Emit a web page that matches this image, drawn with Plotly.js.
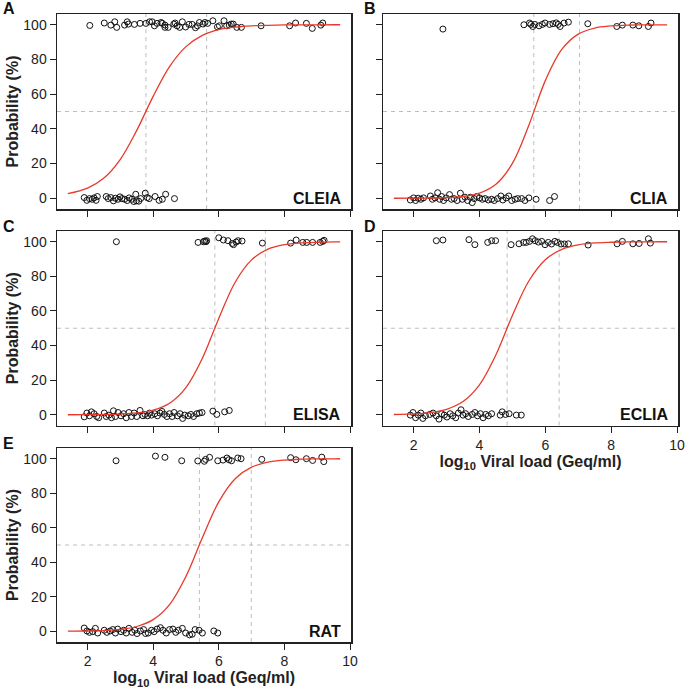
<!DOCTYPE html>
<html>
<head>
<meta charset="utf-8">
<script src="https://cdn.plot.ly/plotly-3.0.1.min.js"></script>
<style>
  html, body { margin: 0; padding: 0; background: #fff; }
  #chart { width: 685px; height: 691px; }
</style>
</head>
<body>
<div id="chart"></div>
<script>
const aPosX = [2.07,2.51,2.71,2.83,2.89,3.13,3.21,3.25,3.43,3.60,3.78,3.89,3.97,4.04,4.12,4.24,4.28,4.36,4.36,4.46,4.63,4.67,4.73,4.81,4.89,4.99,5.09,5.19,5.29,5.35,5.41,5.52,5.58,5.66,5.82,5.96,6.02,6.16,6.24,6.32,6.38,6.44,6.55,6.69,7.29,8.16,8.34,8.67,8.85,9.11,9.17];
const aPosY = [99.6,101.0,99.8,101.7,98.5,99.8,101.7,100.4,100.2,100.8,100.8,101.7,101.7,99.4,100.8,101.3,100.8,99.8,98.5,98.5,100.4,101.0,99.4,98.5,101.7,98.7,100.2,100.2,98.3,99.4,101.3,100.4,101.3,100.8,102.3,98.8,99.4,102.3,99.4,99.8,100.4,100.4,98.5,98.5,99.4,99.4,101.0,100.8,97.9,99.8,101.0];
const aNegX = [1.90,1.98,2.06,2.14,2.20,2.26,2.30,2.57,2.63,2.71,2.79,2.85,2.93,2.99,3.05,3.13,3.21,3.27,3.35,3.41,3.47,3.49,3.56,3.62,3.76,3.82,3.88,4.06,4.18,4.28,4.38,4.65];
const aNegY = [0.4,-1.2,-0.2,-0.6,0.2,-1.2,1.0,1.0,-0.2,0.4,-1.5,0,-0.6,0.8,-0.2,-0.6,-1.3,0.2,-0.6,-1.9,2.3,-1.5,-1.7,-0.2,2.9,0.4,-0.2,1.0,-1.2,-0.6,2.3,-0.2];

const bPosX = [2.89,5.35,5.52,5.56,5.62,5.68,5.81,5.91,5.99,6.13,6.23,6.33,6.39,6.45,6.57,6.70,7.29,8.17,8.34,8.66,8.84,9.13,9.21];
const bPosY = [97.5,100,101.0,100.2,99.0,100.2,99.4,100.2,101.0,100.2,100.6,101.1,100.2,99.0,101.0,101.5,100.6,99.0,99.8,99.8,99.4,99.0,101.0];
const bNegX = [1.90,2.00,2.06,2.14,2.22,2.30,2.51,2.57,2.65,2.73,2.79,2.85,2.91,2.99,3.09,3.15,3.23,3.32,3.42,3.48,3.56,3.64,3.72,3.78,3.84,3.92,4.00,4.09,4.17,4.27,4.37,4.45,4.55,4.65,4.71,4.81,4.89,4.98,5.08,5.16,5.28,5.38,5.50,5.72,6.13,6.28];
const bNegY = [-1.0,0.2,-1.3,0,-0.6,0.2,1.3,-0.6,0.2,3.2,-0.6,1.0,-1.3,0.2,2.1,-0.6,-0.2,-1.3,2.9,-0.6,0.6,-1.3,0.6,-2.5,-0.2,1.0,0.2,-0.6,-0.2,-1.0,-0.6,-1.3,-0.2,1.3,-1.0,0.2,1.3,-1.3,-0.6,-0.2,-0.2,-1.3,0.2,-0.6,-1.3,1.0];

const cPosX = [2.88,5.37,5.53,5.57,5.61,5.63,6.00,6.14,6.28,6.41,6.45,6.53,6.59,6.71,7.33,8.19,8.36,8.56,8.68,8.86,9.09,9.17,9.21];
const cPosY = [100,99.6,100,100.4,100,100.6,102.3,101.0,100.6,99.0,98.3,99.8,100.6,100.4,99.2,99.2,101.0,99.6,99.6,99.6,99.6,100.2,100.8];
const cNegX = [1.90,1.98,2.06,2.12,2.20,2.28,2.34,2.51,2.57,2.65,2.73,2.79,2.85,2.93,3.02,3.10,3.18,3.26,3.34,3.42,3.50,3.60,3.69,3.75,3.83,3.89,3.95,4.05,4.13,4.21,4.27,4.34,4.42,4.50,4.58,4.64,4.74,4.82,4.90,4.96,5.07,5.15,5.23,5.33,5.41,5.49,5.82,5.94,6.18,6.32];
const cNegY = [-1.2,1.0,-0.6,1.7,0.6,-1.0,-1.7,1.0,-1.0,-0.2,-1.7,2.3,-1.0,1.3,-0.6,0.6,-1.7,1.3,-1.0,1.0,-1.0,2.5,-0.6,0.2,-0.6,1.0,-0.2,0.6,-0.6,1.0,1.9,0.2,-1.0,0.6,-1.0,1.3,-0.6,0.6,-2.1,-0.2,-0.6,0.2,-1.0,0.6,1.0,1.3,2.1,0.2,1.7,2.5];

const dPosX = [2.69,2.89,3.68,3.86,4.25,4.37,4.49,4.96,5.20,5.34,5.42,5.52,5.61,5.69,5.79,5.89,5.99,6.09,6.19,6.29,6.37,6.48,6.58,6.70,7.30,8.18,8.34,8.66,8.85,9.13,9.19];
const dPosY = [100.6,101.0,101.2,98.3,99.6,100.6,100.6,98.3,98.8,99.6,99.6,100.2,101.7,100.6,99.8,100.2,98.3,99.6,98.7,100.2,99.6,98.7,98.7,98.8,98.1,98.8,100.2,98.8,99.0,101.7,99.2];
const dNegX = [1.90,1.98,2.06,2.14,2.22,2.28,2.36,2.49,2.59,2.69,2.77,2.85,2.93,3.01,3.11,3.19,3.28,3.36,3.44,3.50,3.58,3.66,3.78,3.86,3.94,4.03,4.11,4.19,4.27,4.37,4.63,4.69,4.79,4.90,5.12,5.27];
const dNegY = [-0.2,1.3,-1.7,-0.2,1.0,-2.1,-0.6,0.2,1.0,-0.6,-2.5,0.6,-0.2,-1.3,0.6,-0.6,-1.7,1.0,2.9,-0.2,0.6,-1.0,0.2,1.3,-0.6,0.6,-1.7,0.2,-0.6,0.6,-0.2,1.7,0.2,0.6,-0.2,-0.2];

const ePosX = [2.87,4.07,4.36,4.87,5.36,5.56,5.60,5.72,5.97,6.13,6.25,6.31,6.39,6.58,6.68,7.31,8.19,8.35,8.67,8.86,9.14,9.20];
const ePosY = [98.8,101.5,100.8,98.8,98.7,98.5,99.6,100.8,98.8,99.2,100.4,99.4,98.8,100.4,100.0,99.6,100.6,99.4,100.0,99.0,100.9,98.3];
const eNegX = [1.90,1.98,2.06,2.16,2.24,2.31,2.51,2.59,2.69,2.77,2.85,2.92,3.02,3.10,3.18,3.26,3.36,3.44,3.51,3.61,3.71,3.77,3.85,3.95,4.03,4.12,4.22,4.30,4.40,4.50,4.60,4.69,4.77,4.89,4.99,5.11,5.19,5.28,5.40,5.50,5.85,5.97];
const eNegY = [1.9,0.2,-0.6,-0.2,1.7,-1.0,0.6,-0.6,0.2,1.0,-1.0,1.3,-0.2,0.6,-1.0,1.7,-0.6,0.6,-1.3,0.2,1.0,-1.3,-1.0,0.6,-0.2,1.3,2.1,0.6,-1.0,1.0,1.3,-0.6,0.6,1.7,-1.0,-2.1,-1.7,1.0,0.6,-1.0,0.2,-1.0];

// fitted probability curves, read at fixed log10 viral loads
const fitX = [1.4,2,2.5,3,3.5,4,4.5,5,5.5,6,6.5,7,7.5,8,8.5,9,9.5,9.7];
const fitA = [2.6,5.8,11.6,22.4,39.1,58.7,75.9,87.4,93.9,97.2,98.7,99.4,99.7,99.9,99.95,99.98,99.99,99.99];
const fitB = [0.01,0.04,0.13,0.36,1.04,2.94,8.03,20.1,42.1,67.8,85.8,94.6,98.1,99.3,99.8,99.9,99.97,99.98];
const fitC = [0.02,0.06,0.16,0.41,1.05,2.68,6.68,15.7,32.6,55.7,76.6,89.5,95.7,98.3,99.3,99.7,99.9,99.93];
const fitD = [0.17,0.51,1.27,3.16,7.64,17.3,34.7,57.4,77.3,89.6,95.6,98.2,99.3,99.7,99.9,99.96,99.98,99.99];
const fitE = [0.06,0.18,0.44,1.12,2.78,6.77,15.5,31.8,54.2,75.0,88.4,95.1,98.0,99.2,99.7,99.87,99.95,99.96];

// 50% and 95% detection limits
const lod50 = [3.78, 5.65, 5.88, 4.84, 5.41];
const lod95 = [5.63, 7.04, 7.42, 6.42, 6.99];
const assays = ['CLEIA', 'CLIA', 'ELISA', 'ECLIA', 'RAT'];
const letters = ['A', 'B', 'C', 'D', 'E'];

const panels = [
    {posX: aPosX, posY: aPosY, negX: aNegX, negY: aNegY, fit: fitA},
    {posX: bPosX, posY: bPosY, negX: bNegX, negY: bNegY, fit: fitB},
    {posX: cPosX, posY: cPosY, negX: cNegX, negY: cNegY, fit: fitC},
    {posX: dPosX, posY: dPosY, negX: dNegX, negY: dNegY, fit: fitD},
    {posX: ePosX, posY: ePosY, negX: eNegX, negY: eNegY, fit: fitE}
];

const FONT = 'Liberation Sans, Arial, sans-serif';
const colDom = [[57/685, 351/685], [383/685, 678/685]];
const rowDom = [[1 - 209/691, 1 - 14/691], [1 - 425.5/691, 1 - 231/691], [1 - 642/691, 1 - 448/691]];
const cell = [[0, 0], [1, 0], [0, 1], [1, 1], [0, 2]];   // [col, row]
const showX = [false, false, false, true, true];
const showY = [true, false, true, false, true];

const traces = [];
const layout = {
    width: 685, height: 691,
    margin: {l: 0, r: 0, t: 0, b: 0},
    paper_bgcolor: '#fff', plot_bgcolor: '#fff',
    showlegend: false,
    shapes: [], annotations: []
};

panels.forEach((p, i) => {
    const n = i === 0 ? '' : String(i + 1);
    const xa = 'x' + n, ya = 'y' + n;
    const mk = {symbol: 'circle-open', size: 6, color: '#111', line: {width: 1, color: '#111'}};
    traces.push({x: p.posX.concat(p.negX), y: p.posY.concat(p.negY), type: 'scatter', mode: 'markers',
        marker: mk, xaxis: xa, yaxis: ya, cliponaxis: false});
    traces.push({x: fitX, y: p.fit, type: 'scatter', mode: 'lines',
        line: {color: '#E8392A', width: 1.3, shape: 'spline'}, xaxis: xa, yaxis: ya});

    const [c, r] = cell[i];
    const xax = {
        domain: colDom[c], anchor: ya, range: [1.07, 10.03],
        tickvals: [2, 4, 6, 8, 10], showticklabels: showX[i], ticklabeloverflow: 'allow',
        ticks: 'outside', ticklen: 6, tickwidth: 1, tickcolor: '#222',
        showline: true, mirror: true, linecolor: '#222', linewidth: 1.5,
        showgrid: false, zeroline: false,
        tickfont: {family: FONT, size: 14, color: '#222'}
    };
    if (showX[i]) xax.title = {text: 'log<sub>10</sub> Viral load (Geq/ml)', standoff: 3,
        font: {family: FONT, size: 16, color: '#222', weight: 'bold'}};
    const yax = {
        domain: rowDom[r], anchor: xa, range: [-6.2, 106.2],
        tickvals: [0, 20, 40, 60, 80, 100], showticklabels: showY[i],
        ticks: 'outside', ticklen: 6, tickwidth: 1, tickcolor: '#222',
        showline: true, mirror: true, linecolor: '#222', linewidth: 1.5,
        showgrid: false, zeroline: false,
        tickfont: {family: FONT, size: 14, color: '#222'}
    };
    if (showY[i]) yax.title = {text: 'Probability (%)', standoff: 0,
        font: {family: FONT, size: 16, color: '#222', weight: 'bold'}};
    layout['xaxis' + n] = xax;
    layout['yaxis' + n] = yax;

    const dash = {color: '#BDBDBD', width: 1, dash: '4px,4px'};
    [lod50[i], lod95[i]].forEach(v => layout.shapes.push({type: 'line', layer: 'below',
        xref: xa, yref: ya + ' domain', x0: v, x1: v, y0: 0, y1: 1, line: dash}));
    layout.shapes.push({type: 'line', layer: 'below', xref: xa + ' domain', yref: ya,
        x0: 0, x1: 1, y0: 50, y1: 50, line: dash});

    layout.annotations.push({text: '<b>' + assays[i] + '</b>', xref: xa + ' domain', yref: ya,
        x: 1, y: 0, xanchor: 'right', yanchor: 'middle', xshift: -8, showarrow: false,
        font: {family: FONT, size: 16, color: '#111'}});
    layout.annotations.push({text: '<b>' + letters[i] + '</b>', xref: 'paper', yref: 'paper',
        x: c === 0 ? 1/685 : 362/685, y: 1 - (r * 217 + 9) / 691, xanchor: 'left', yanchor: 'middle',
        showarrow: false, font: {family: FONT, size: 16, color: '#111'}});
});

Plotly.newPlot('chart', traces, layout, {displayModeBar: false, staticPlot: true});
</script>
</body>
</html>
